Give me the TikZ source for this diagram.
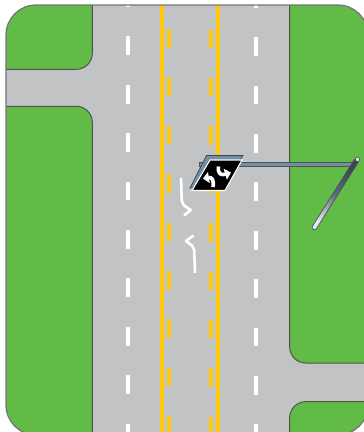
\documentclass[tikz,border=0pt]{standalone}
\usepackage{tikz}
\usetikzlibrary{arrows.meta}
\definecolor{roadgray}{RGB}{193,195,197}
\definecolor{lawngreen}{RGB}{98,187,70}
\definecolor{lineyellow}{RGB}{255,200,11}
\definecolor{edgegray}{RGB}{80,81,84}
\definecolor{framegray}{RGB}{115,116,120}
\definecolor{armblue}{RGB}{112,143,166}
\definecolor{poledark}{RGB}{58,70,82}
\definecolor{polemid}{RGB}{88,108,126}
\definecolor{polelight}{RGB}{225,230,233}

\begin{document}
\begin{tikzpicture}[
    x=1pt, y=-1pt,
    lawn/.style={fill=lawngreen, draw=edgegray, line width=1pt},
    yellowline/.style={lineyellow, line width=4.2pt},
    yellowdash/.style={lineyellow, line width=4.2pt},
    whitedash/.style={white, line width=4.2pt},
    lanearrow/.style={white, line width=2.6pt, line join=round},
    signarrow/.style={white, line width=3.6pt, -{Triangle[length=6pt, width=11pt]}}
]
\clip (0,0) rectangle (364,432);
\path[fill=roadgray, rounded corners=30pt] (6,5) rectangle (368,435);
\begin{scope}
\clip[rounded corners=30pt] (6,5) rectangle (368,435);
% green corners
\draw[lawn] (-5,-5) -- (92.3,-5) [rounded corners=16pt] -- (92.3,69.3) [sharp corners] -- (-5,69.3) -- cycle;
\draw[lawn] (-5,106.3) [rounded corners=16pt] -- (92.3,106.3) [sharp corners] -- (92.3,445) -- (-5,445) -- cycle;
\draw[lawn] (375,-5) -- (289.7,-5) [rounded corners=16pt] -- (289.7,363) [sharp corners] -- (375,363) -- cycle;
\draw[lawn] (375,401.7) [rounded corners=16pt] -- (289.7,401.7) [sharp corners] -- (289.7,445) -- (375,445) -- cycle;
% pavement markings
\draw[yellowline] (162,5) -- (162,435);
\draw[yellowline] (218,5) -- (218,435);
\foreach \k [evaluate=\k as \ya using 29+48.4*\k, evaluate=\k as \yb using 47.5+48.4*\k] in {0,...,8} {
    \draw[yellowdash] (169.3,\ya) -- (169.3,\yb);
    \draw[yellowdash] (210.7,\ya+0.5) -- (210.7,\yb+0.5);
}
\foreach \k [evaluate=\k as \ya using -12+48.4*\k, evaluate=\k as \yb using 6.8+48.4*\k] in {0,...,9} {
    \draw[whitedash] (128,\ya) -- (128,\yb);
    \draw[whitedash] (256,\ya+0.7) -- (256,\yb+0.7);
}
\end{scope}
\draw[framegray, line width=1.2pt, rounded corners=30pt] (6,5) rectangle (368,435);
% lane arrows
\draw[lanearrow] (181,178) -- (181.8,201) -- (184,205.5) -- (190.7,210) -- (184,215.5);
\draw[lanearrow] (195,273) -- (194.2,250) -- (192,245.5) -- (186,241) -- (193.5,235.5);
% mast arm and pole
\draw[edgegray, line width=0.9pt, fill=armblue] (199,162) rectangle (355,166);
\path[draw=edgegray, line width=0.7pt, bottom color=polelight, top color=poledark, middle color=polemid, shading angle=-32, rounded corners=1.5pt]
    (311.3,228) -- (355.3,158) -- (359.3,160.5) -- (315.3,230.5) -- cycle;
\draw[edgegray, line width=0.6pt, fill=polelight] (357.5,159.3) circle (2.2pt);
% sign panel
\draw[poledark, line width=0.7pt, fill=armblue] (206.5,155.5) -- (243,155.5) -- (224,188) -- (190,188) -- cycle;
\draw[white, line width=1.1pt, fill=black] (210,160) -- (242,160) -- (225,190.5) -- (192,190.5) -- cycle;
\draw[signarrow] (213,187) .. controls (214,180) and (212,177) .. (203,178.5);
\draw[signarrow] (218.5,166.5) .. controls (217.5,174) and (221,175.5) .. (231,172.5);
\end{tikzpicture}
\end{document}
